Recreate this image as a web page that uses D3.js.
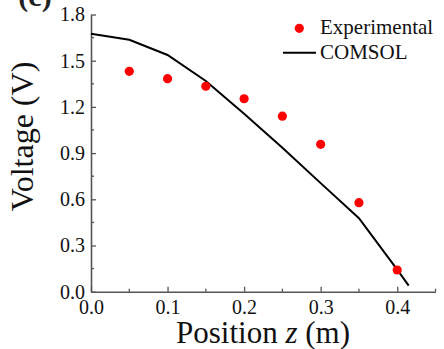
<!DOCTYPE html>
<html>
<head>
<meta charset="utf-8">
<script src="https://cdn.jsdelivr.net/npm/d3@7"></script>
<style>
  body { margin: 0; background: #fff; }
</style>
</head>
<body>
<div id="chart"></div>
<script>
// experimental points
const expZ = [0.05, 0.10, 0.15, 0.20, 0.25, 0.30, 0.35, 0.40];
const expV = [1.431, 1.383, 1.334, 1.253, 1.140, 0.957, 0.578, 0.141];

// COMSOL curve
const simZ = [0.0, 0.05, 0.10, 0.15, 0.20, 0.25, 0.30, 0.35, 0.40, 0.415];
const simV = [1.675, 1.636, 1.537, 1.368, 1.155, 0.935, 0.705, 0.477, 0.143, 0.040];

const xTicks = [0.0, 0.1, 0.2, 0.3, 0.4];
const yTicks = [0.0, 0.3, 0.6, 0.9, 1.2, 1.5, 1.8];

const FONT = "'Liberation Serif', 'Times New Roman', serif";

const width = 444, height = 349;
const margin = { left: 91, right: 8.5, top: 14.5, bottom: 57.3 };

const svg = d3.select('#chart').append('svg')
    .attr('width', width)
    .attr('height', height);

const x = d3.scaleLinear().domain([0, 0.45]).range([margin.left, width - margin.right]);
const y = d3.scaleLinear().domain([0, 1.8]).range([height - margin.bottom, margin.top]);

const axisColor = '#555';

// x axis (ticks pointing inward)
const xAxis = svg.append('g')
    .attr('transform', `translate(0,${y(0)})`)
    .call(d3.axisBottom(x).tickValues(xTicks).tickSizeInner(-5).tickSizeOuter(0).tickFormat(d3.format('.1f')))
    .attr('font-family', FONT)
    .attr('font-size', 20);
xAxis.select('.domain').attr('stroke', axisColor).attr('stroke-width', 1.6);
xAxis.selectAll('.tick line').attr('stroke', axisColor).attr('stroke-width', 1.3);
xAxis.selectAll('.tick text')
    .attr('y', 8)
    .attr('dy', '0.71em')
    .attr('fill', '#111');

// x minor ticks
svg.append('g').selectAll('line')
    .data([0.05, 0.15, 0.25, 0.35, 0.45])
    .join('line')
    .attr('x1', d => x(d)).attr('x2', d => x(d))
    .attr('y1', y(0)).attr('y2', y(0) - 3)
    .attr('stroke', axisColor).attr('stroke-width', 1.3);

// y axis
const yAxis = svg.append('g')
    .attr('transform', `translate(${x(0)},0)`)
    .call(d3.axisLeft(y).tickValues(yTicks).tickSizeInner(-5).tickSizeOuter(0).tickFormat(d3.format('.1f')))
    .attr('font-family', FONT)
    .attr('font-size', 20);
yAxis.select('.domain').attr('stroke', axisColor).attr('stroke-width', 1.6);
yAxis.selectAll('.tick line').attr('stroke', axisColor).attr('stroke-width', 1.3);
yAxis.selectAll('.tick text')
    .attr('x', -6)
    .attr('fill', '#111');

// y minor ticks
svg.append('g').selectAll('line')
    .data([0.15, 0.45, 0.75, 1.05, 1.35, 1.65])
    .join('line')
    .attr('x1', x(0)).attr('x2', x(0) + 3)
    .attr('y1', d => y(d)).attr('y2', d => y(d))
    .attr('stroke', axisColor).attr('stroke-width', 1.3);

// COMSOL line
const simData = simZ.map((z, i) => [z, simV[i]]);
svg.append('path')
    .datum(simData)
    .attr('fill', 'none')
    .attr('stroke', '#000')
    .attr('stroke-width', 2)
    .attr('d', d3.line().x(d => x(d[0])).y(d => y(d[1])));

// experimental dots
svg.append('g').selectAll('circle')
    .data(expZ.map((z, i) => [z, expV[i]]))
    .join('circle')
    .attr('cx', d => x(d[0]))
    .attr('cy', d => y(d[1]))
    .attr('r', 4.6)
    .attr('fill', '#ff0000');

// axis titles
svg.append('text')
    .attr('x', 263)
    .attr('y', 343)
    .attr('text-anchor', 'middle')
    .attr('font-family', FONT)
    .attr('font-size', 31)
    .attr('fill', '#111')
    .html('Position <tspan font-style="italic">z</tspan> (m)');

svg.append('text')
    .attr('transform', 'translate(33,136.5) rotate(-90)')
    .attr('text-anchor', 'middle')
    .attr('font-family', FONT)
    .attr('font-size', 32)
    .attr('fill', '#111')
    .text('Voltage (V)');

// panel label (mostly cut off at top, as in the reference)
svg.append('text')
    .attr('x', 35)
    .attr('y', 6)
    .attr('text-anchor', 'middle')
    .attr('font-family', FONT)
    .attr('font-size', 30)
    .attr('font-weight', 'bold')
    .attr('fill', '#222')
    .text('(c)');

// legend
const legend = svg.append('g')
    .attr('font-family', FONT)
    .attr('font-size', 21)
    .attr('fill', '#111');
legend.append('circle')
    .attr('cx', 299.3).attr('cy', 28.3).attr('r', 4.6)
    .attr('fill', '#ff0000');
legend.append('text')
    .attr('x', 320).attr('y', 34)
    .text('Experimental');
legend.append('line')
    .attr('x1', 283).attr('x2', 316)
    .attr('y1', 52.7).attr('y2', 52.7)
    .attr('stroke', '#000').attr('stroke-width', 2);
legend.append('text')
    .attr('x', 320).attr('y', 59)
    .text('COMSOL');
</script>
</body>
</html>
